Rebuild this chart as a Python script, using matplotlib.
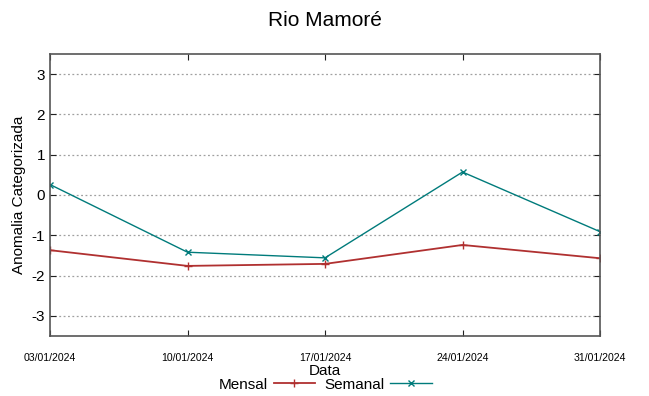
import matplotlib
matplotlib.use('Agg')
import matplotlib.pyplot as plt

# weekly dates and anomaly values
datas = ['03/01/2024', '10/01/2024', '17/01/2024', '24/01/2024', '31/01/2024']
mensal = [-1.37, -1.76, -1.71, -1.24, -1.57]
semanal = [0.26, -1.42, -1.56, 0.57, -0.91]
yticks = [-3, -2, -1, 0, 1, 2, 3]

plt.rcParams['font.family'] = ['Liberation Sans', 'DejaVu Sans']

fig = plt.figure(figsize=(6.49, 3.96), dpi=100)
ax = fig.add_axes([50 / 649, 1 - 336 / 396, 550 / 649, 282 / 396])

x = list(range(len(datas)))
ax.plot(x, mensal, color='#b03030', lw=1.3, marker='+', ms=6, mew=1.0, label='Mensal')
ax.plot(x, semanal, color='#007b7b', lw=1.0, marker='x', ms=5, mew=1.0, label='Semanal')

ax.set_xlim(0, len(datas) - 1)
ax.set_ylim(-3.5, 3.5)
ax.set_yticks(yticks)
ax.set_yticklabels([str(v) for v in yticks], fontsize=11)
ax.set_xticks(x)
ax.set_xticklabels(datas, fontsize=7.6)
ax.tick_params(axis='both', direction='in', top=True, right=True, length=4, color='#222222')
ax.tick_params(axis='x', pad=12)
ax.grid(axis='y', linestyle=(0, (1.5, 2)), color='#a0a0a0', lw=0.9)

for s in ax.spines.values():
    s.set_color('#555555')
    s.set_linewidth(1.2)

ax.set_ylabel('Anomalia Categorizada', fontsize=11, labelpad=4)
ax.set_xlabel('Data', fontsize=11, labelpad=1)
fig.suptitle('Rio Mamoré', fontsize=15, y=0.972)

ax.legend(loc='upper center', bbox_to_anchor=(0.5, -0.148), ncol=2, frameon=False,
          markerfirst=False, fontsize=11, handlelength=2.7, columnspacing=0.6,
          handletextpad=0.4, borderaxespad=0, borderpad=0)

fig.savefig('out.png', dpi=100)
